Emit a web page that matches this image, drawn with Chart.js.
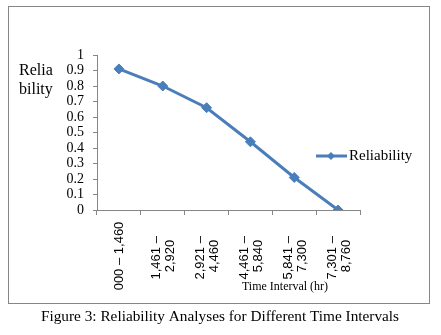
<!DOCTYPE html>
<html>
<head>
<meta charset="utf-8">
<script src="https://cdn.jsdelivr.net/npm/chart.js@4"></script>
<style>
  html, body { margin: 0; padding: 0; background: #fff; }
  #wrap { width: 441px; height: 335px; }
</style>
</head>
<body>
<div id="wrap"><canvas id="myChart" width="441" height="335"></canvas></div>
<script>
// time intervals (hours) and reliability
var intervals = [
  ['000 – 1,460'],
  ['1,461 – ', '2,920'],
  ['2,921 – ', '4,460'],
  ['4,461 – ', '5,840'],
  ['5,841 – ', '7,300'],
  ['7,301 – ', '8,760']
];
var reliability = [0.91, 0.80, 0.66, 0.44, 0.21, 0];
var seriesName = 'Reliability';
var yTitleLines = ['Relia', 'bility'];
var xTitle = 'Time Interval (hr)';
var caption = 'Figure 3: Reliability Analyses for Different Time Intervals';

var blue = '#4a7ebb';
var axisGrey = '#868686';
var serif = '"Liberation Serif", "Times New Roman", serif';
var sans = '"Liberation Sans", Arial, sans-serif';

// border, titles, category labels, legend and caption
var decorations = {
  id: 'decorations',
  afterDraw: function(chart) {
    var c = chart.ctx;
    var xs = chart.scales.x;
    c.save();
    c.strokeStyle = axisGrey;
    c.lineWidth = 1;
    c.strokeRect(8.5, 6.5, 421, 297);

    c.fillStyle = '#000';
    c.textBaseline = 'middle';
    c.textAlign = 'left';
    c.font = '16px ' + serif;
    c.fillText(yTitleLines[0], 19, 71);
    c.fillText(yTitleLines[1], 19, 90);

    // rotated category labels, lines centred on the category like Excel does
    c.font = '13px ' + sans;
    c.textAlign = 'center';
    intervals.forEach(function(lines, i) {
      var px = xs.getPixelForValue(i);
      var lh = 14;
      lines.forEach(function(txt, j) {
        var off = (j - (lines.length - 1) / 2) * lh;
        c.save();
        c.translate(px + off + 1, 256);
        c.rotate(-Math.PI / 2);
        c.fillText(txt, 0, 0);
        c.restore();
      });
    });

    c.font = '12px ' + serif;
    c.fillText(xTitle, 285, 287);

    // legend
    var ly = 156;
    c.strokeStyle = blue;
    c.lineWidth = 3;
    c.beginPath();
    c.moveTo(316, ly);
    c.lineTo(347, ly);
    c.stroke();
    c.fillStyle = blue;
    c.beginPath();
    c.moveTo(331, ly - 4);
    c.lineTo(335, ly);
    c.lineTo(331, ly + 4);
    c.lineTo(327, ly);
    c.closePath();
    c.fill();
    c.fillStyle = '#000';
    c.textAlign = 'left';
    c.font = '15px ' + serif;
    c.fillText(seriesName, 349, ly);

    c.textAlign = 'center';
    c.font = '15.3px ' + serif;
    c.fillText(caption, 220, 317);
    c.restore();
  }
};

var ctx = document.getElementById('myChart').getContext('2d');
var myChart = new Chart(ctx, {
  type: 'line',
  data: {
    labels: intervals,
    datasets: [{
      label: seriesName,
      data: reliability,
      borderColor: blue,
      backgroundColor: blue,
      borderWidth: 3,
      pointStyle: 'rectRot',
      pointRadius: 5,
      pointBorderWidth: 1,
      tension: 0
    }]
  },
  options: {
    responsive: false,
    animation: false,
    layout: { padding: { left: 50, top: 55, right: 81, bottom: 40 } },
    plugins: {
      legend: { display: false },
      tooltip: { enabled: false }
    },
    scales: {
      y: {
        min: 0,
        max: 1,
        ticks: {
          stepSize: 0.1,
          autoSkip: false,
          color: '#000',
          font: { family: serif, size: 14 },
          padding: 9,
          callback: function(v) { return String(Math.round(v * 10) / 10); }
        },
        grid: { drawOnChartArea: false, color: axisGrey, tickLength: 4 },
        border: { color: axisGrey },
        afterFit: function(s) { s.width = 47; }
      },
      x: {
        offset: true,
        ticks: { display: false },
        grid: { offset: true, drawOnChartArea: false, color: axisGrey, tickLength: 5 },
        border: { color: axisGrey },
        afterFit: function(s) { s.height = 85; }
      }
    }
  },
  plugins: [decorations]
});
</script>
</body>
</html>
